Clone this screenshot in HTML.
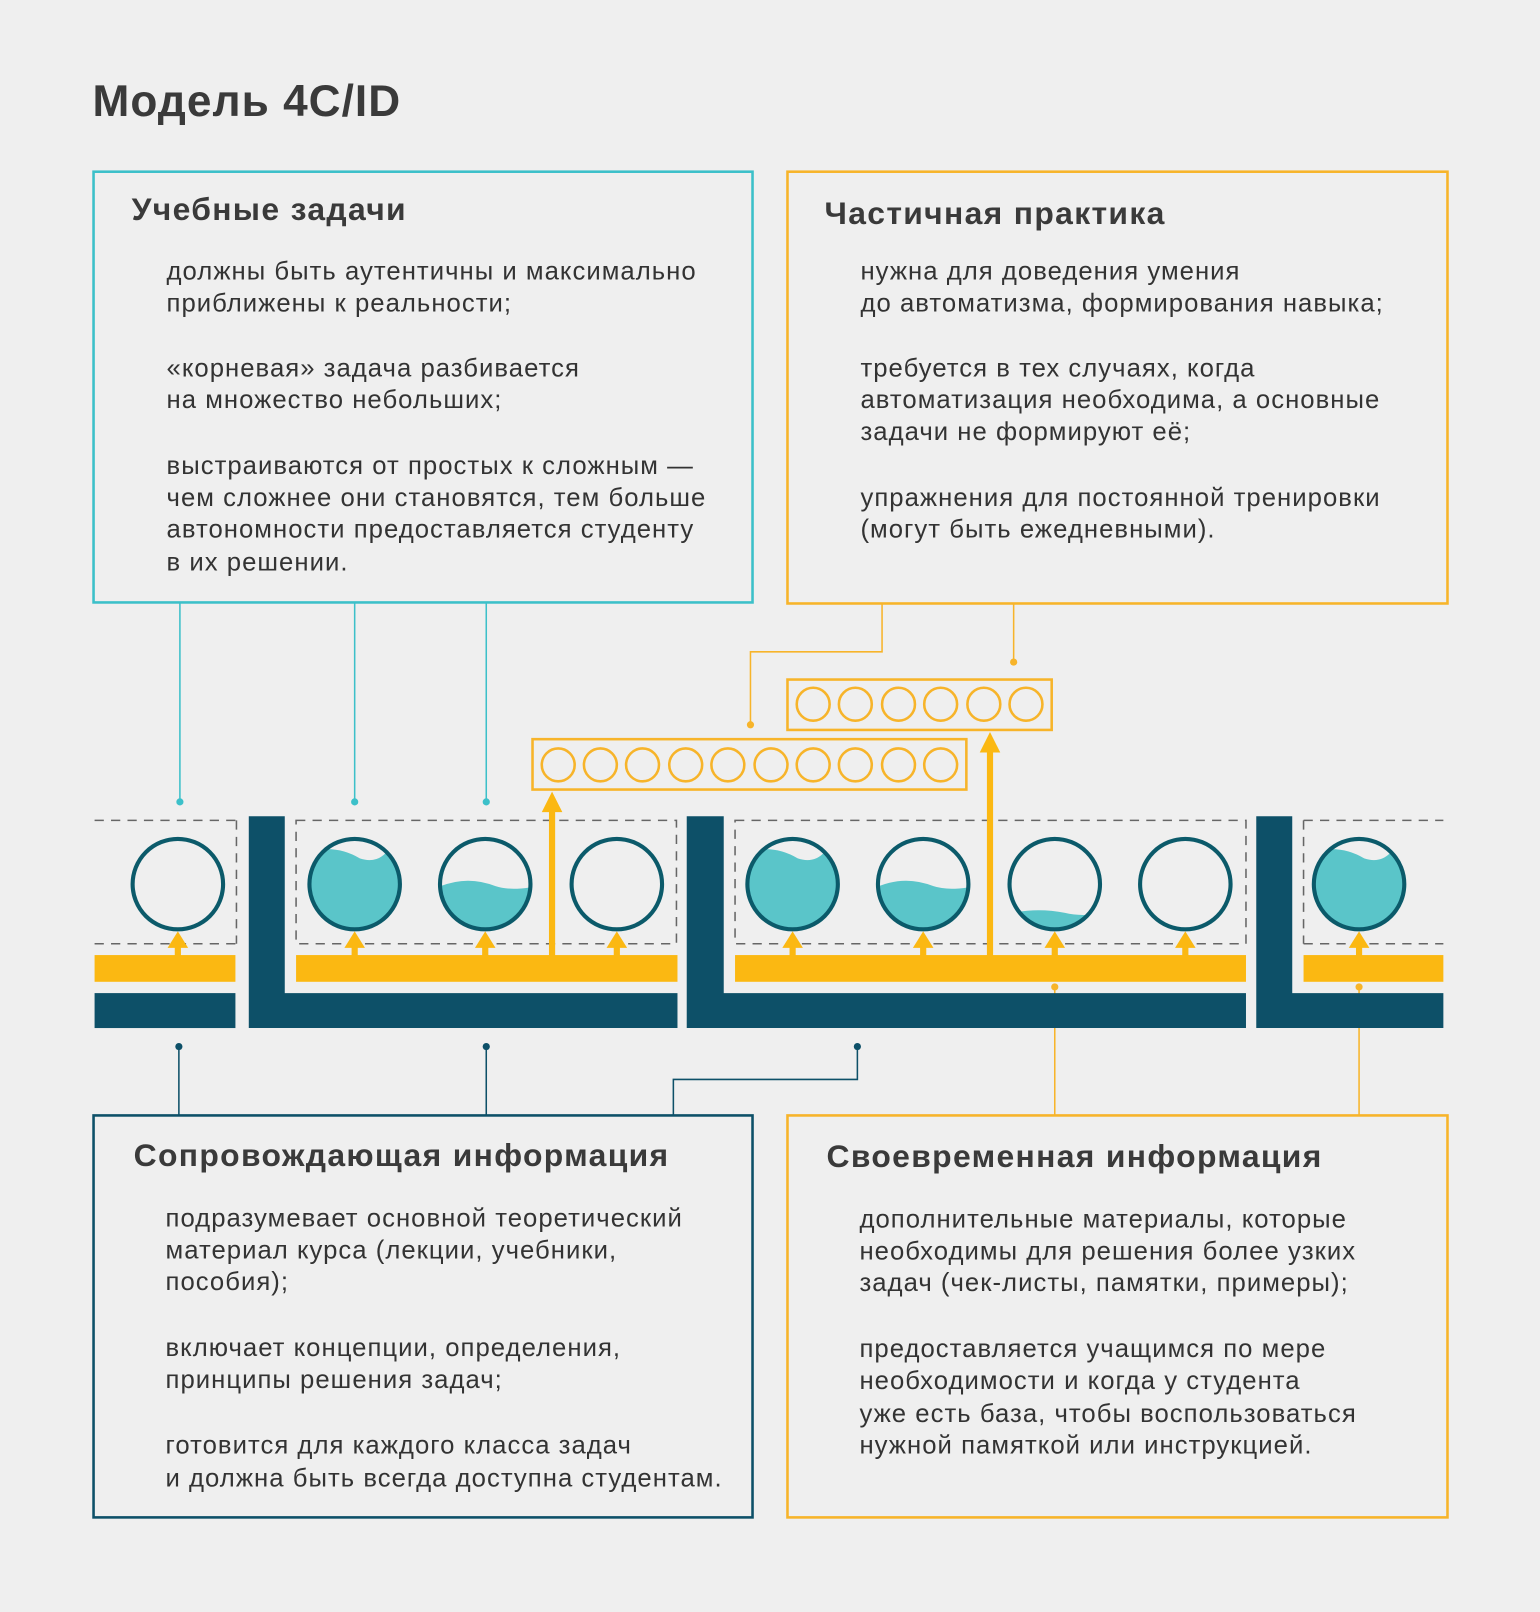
<!DOCTYPE html>
<html><head><meta charset="utf-8"><style>
html,body{margin:0;padding:0;background:#efefef;}
svg{display:block}
text{font-family:"Liberation Sans","DejaVu Sans",sans-serif;fill:#333;}
.t{font-size:25px;letter-spacing:1px}
.h{font-size:31px;font-weight:bold;fill:#3a3a3a;letter-spacing:1.3px}
</style></head><body>
<svg width="1540" height="1612" viewBox="0 0 1498 1568" xmlns="http://www.w3.org/2000/svg">
<defs>
<clipPath id="c"><circle cx="0" cy="0" r="43"/></clipPath>
<g id="e"><circle cx="0" cy="0" r="44" fill="none" stroke="#0b5a6a" stroke-width="4"/></g>
<g id="a" fill="#fbb812"><rect x="-3" y="921" width="6" height="9"/><path d="M-10 922 L0 906 L10 922Z"/></g>
</defs>
<rect width="1498" height="1568" fill="#efefef"/>
<text x="90" y="113" style="font-size:43px;fill:#3a3a3a;font-weight:bold;letter-spacing:1px">Модель 4C/ID</text>

<rect x="91" y="167" width="641" height="419" fill="none" stroke="#3cc0c9" stroke-width="2.5"/>
<rect x="766" y="167" width="642" height="420" fill="none" stroke="#f7b42a" stroke-width="2.5"/>
<rect x="91" y="1085" width="641" height="391" fill="none" stroke="#0d5068" stroke-width="2.5"/>
<rect x="766" y="1085" width="642" height="391" fill="none" stroke="#f7b42a" stroke-width="2.5"/>

<text class="h" x="128" y="214">Учебные задачи</text>
<text class="t" x="162" y="272">должны быть аутентичны и максимально</text>
<text class="t" x="162" y="303">приближены к реальности;</text>
<text class="t" x="162" y="366">«корневая» задача разбивается</text>
<text class="t" x="162" y="397">на множество небольших;</text>
<text class="t" x="162" y="461">выстраиваются от простых к сложным —</text>
<text class="t" x="162" y="492">чем сложнее они становятся, тем больше</text>
<text class="t" x="162" y="523">автономности предоставляется студенту</text>
<text class="t" x="162" y="555">в их решении.</text>

<text class="h" x="802" y="218">Частичная практика</text>
<text class="t" x="837" y="272">нужна для доведения умения</text>
<text class="t" x="837" y="303">до автоматизма, формирования навыка;</text>
<text class="t" x="837" y="366">требуется в тех случаях, когда</text>
<text class="t" x="837" y="397">автоматизация необходима, а основные</text>
<text class="t" x="837" y="428">задачи не формируют её;</text>
<text class="t" x="837" y="492">упражнения для постоянной тренировки</text>
<text class="t" x="837" y="523">(могут быть ежедневными).</text>

<text class="h" x="130" y="1134">Сопровождающая информация</text>
<text class="t" x="161" y="1193">подразумевает основной теоретический</text>
<text class="t" x="161" y="1224">материал курса (лекции, учебники,</text>
<text class="t" x="161" y="1255">пособия);</text>
<text class="t" x="161" y="1319">включает концепции, определения,</text>
<text class="t" x="161" y="1350">принципы решения задач;</text>
<text class="t" x="161" y="1414">готовится для каждого класса задач</text>
<text class="t" x="161" y="1446">и должна быть всегда доступна студентам.</text>

<text class="h" x="804" y="1135">Своевременная информация</text>
<text class="t" x="836" y="1194">дополнительные материалы, которые</text>
<text class="t" x="836" y="1225">необходимы для решения более узких</text>
<text class="t" x="836" y="1256">задач (чек-листы, памятки, примеры);</text>
<text class="t" x="836" y="1320">предоставляется учащимся по мере</text>
<text class="t" x="836" y="1351">необходимости и когда у студента</text>
<text class="t" x="836" y="1383">уже есть база, чтобы воспользоваться</text>
<text class="t" x="836" y="1414">нужной памяткой или инструкцией.</text>

<g stroke="#3cc0c9" stroke-width="1.5" fill="none">
<line x1="175" y1="586" x2="175" y2="780"/><line x1="345" y1="586" x2="345" y2="780"/><line x1="473" y1="586" x2="473" y2="780"/>
</g>
<g fill="#3cc0c9"><circle cx="175" cy="780" r="3.5"/><circle cx="345" cy="780" r="3.5"/><circle cx="473" cy="780" r="3.5"/></g>
<g stroke="#f7b42a" stroke-width="1.5" fill="none">
<polyline points="858,587 858,634 730,634 730,705"/>
<line x1="986" y1="587" x2="986" y2="644"/>
<line x1="1026" y1="960" x2="1026" y2="1085"/><line x1="1322" y1="960" x2="1322" y2="1085"/>
</g>
<g fill="#f7b42a"><circle cx="730" cy="705" r="3.5"/><circle cx="986" cy="644" r="3.5"/><circle cx="1026" cy="960" r="3.5"/><circle cx="1322" cy="960" r="3.5"/></g>
<g stroke="#0d5068" stroke-width="1.5" fill="none">
<line x1="174" y1="1018" x2="174" y2="1085"/><line x1="473" y1="1018" x2="473" y2="1085"/>
<polyline points="834,1018 834,1050 655,1050 655,1085"/>
</g>
<g fill="#0d5068"><circle cx="174" cy="1018" r="3.5"/><circle cx="473" cy="1018" r="3.5"/><circle cx="834" cy="1018" r="3.5"/></g>

<g fill="none" stroke="#f7b42a" stroke-width="2.5">
<rect x="518" y="719" width="422" height="49"/>
<rect x="766" y="661" width="257" height="49"/>
<circle cx="543" cy="744" r="16"/><circle cx="584" cy="744" r="16"/><circle cx="625" cy="744" r="16"/><circle cx="667" cy="744" r="16"/><circle cx="708" cy="744" r="16"/><circle cx="750" cy="744" r="16"/><circle cx="791" cy="744" r="16"/><circle cx="832" cy="744" r="16"/><circle cx="874" cy="744" r="16"/><circle cx="915" cy="744" r="16"/>
<circle cx="791" cy="685" r="16"/><circle cx="832" cy="685" r="16"/><circle cx="874" cy="685" r="16"/><circle cx="915" cy="685" r="16"/><circle cx="957" cy="685" r="16"/><circle cx="998" cy="685" r="16"/>
</g>

<g stroke="#666" stroke-width="1.5" stroke-dasharray="9,7" fill="none">
<line x1="92" y1="798" x2="230" y2="798"/><line x1="92" y1="918" x2="230" y2="918"/><line x1="230" y1="798" x2="230" y2="918"/>
<rect x="288" y="798" width="370" height="120"/>
<rect x="715" y="798" width="497" height="120"/>
<line x1="1268" y1="798" x2="1404" y2="798"/><line x1="1268" y1="918" x2="1404" y2="918"/><line x1="1268" y1="798" x2="1268" y2="918"/>
</g>

<g fill="#fbb812">
<rect x="92" y="929" width="137" height="26"/><rect x="288" y="929" width="371" height="26"/><rect x="715" y="929" width="497" height="26"/><rect x="1268" y="929" width="136" height="26"/>
</g>
<g fill="#0d5068">
<rect x="92" y="966" width="137" height="34"/>
<path d="M242 794 H277 V966 H659 V1000 H242 Z"/>
<path d="M668 794 H704 V966 H1212 V1000 H668 Z"/>
<path d="M1222 794 H1257 V966 H1404 V1000 H1222 Z"/>
</g>

<g fill="#5ac5c9">
<g transform="translate(345,860)"><path clip-path="url(#c)" d="M-50 -30 Q-20 -40 5 -25 Q20 -20 30 -30 L50 -40 V50 H-50Z"/></g>
<g transform="translate(472,860)"><path clip-path="url(#c)" d="M-50 5 Q-20 -10 10 2 Q25 7 50 2 V50 H-50Z"/></g>
<g transform="translate(771,860)"><path clip-path="url(#c)" d="M-50 -30 Q-20 -40 5 -25 Q20 -20 30 -30 L50 -40 V50 H-50Z"/></g>
<g transform="translate(898,860)"><path clip-path="url(#c)" d="M-50 5 Q-20 -10 10 2 Q25 7 50 2 V50 H-50Z"/></g>
<g transform="translate(1026,860)"><path clip-path="url(#c)" d="M-50 30 Q-20 22 10 28 Q25 32 50 28 V50 H-50Z"/></g>
<g transform="translate(1322,860)"><path clip-path="url(#c)" d="M-50 -30 Q-20 -40 5 -25 Q20 -20 30 -30 L50 -40 V50 H-50Z"/></g>
</g>
<use href="#e" x="173" y="860"/><use href="#e" x="345" y="860"/><use href="#e" x="472" y="860"/><use href="#e" x="600" y="860"/><use href="#e" x="771" y="860"/><use href="#e" x="898" y="860"/><use href="#e" x="1026" y="860"/><use href="#e" x="1153" y="860"/><use href="#e" x="1322" y="860"/>

<use href="#a" x="173"/><use href="#a" x="345"/><use href="#a" x="472"/><use href="#a" x="600"/><use href="#a" x="771"/><use href="#a" x="898"/><use href="#a" x="1026"/><use href="#a" x="1153"/><use href="#a" x="1322"/>
<g fill="#fbb812">
<rect x="534" y="788" width="6" height="142"/><path d="M527 790 L537 770 L547 790Z"/>
<rect x="960" y="730" width="6" height="200"/><path d="M953 732 L963 712 L973 732Z"/>
</g>
</svg>
</body></html>
